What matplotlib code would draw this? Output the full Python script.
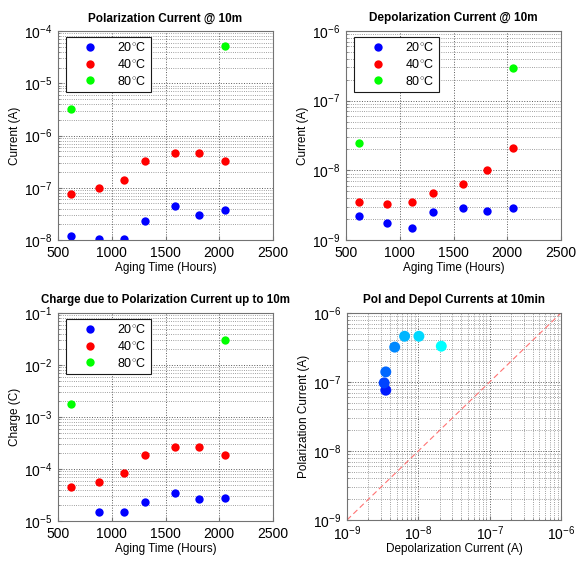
import numpy as np
import matplotlib
matplotlib.use('Agg')
import matplotlib.pyplot as plt
from matplotlib.colors import LinearSegmentedColormap
from matplotlib.ticker import LogLocator, NullFormatter

plt.rcParams['font.family'] = ['Liberation Sans', 'DejaVu Sans']
plt.rcParams['mathtext.fontset'] = 'custom'
plt.rcParams['mathtext.rm'] = 'Liberation Sans'

# Aging times (hours)
hours = [620, 880, 1110, 1310, 1590, 1810, 2050]
hours_80 = [620, 2050]
hours_q20 = [880, 1110, 1310, 1590, 1810, 2050]

# Polarization current @ 10 min (A)
pol_20 = [1.17e-8, 1.03e-8, 1.03e-8, 2.34e-8, 4.4e-8, 3.0e-8, 3.7e-8]
pol_40 = [7.6e-8, 9.7e-8, 1.4e-7, 3.2e-7, 4.6e-7, 4.6e-7, 3.3e-7]
pol_80 = [3.2e-6, 5.2e-5]

# Depolarization current @ 10 min (A)
dep_20 = [2.2e-9, 1.73e-9, 1.47e-9, 2.52e-9, 2.9e-9, 2.63e-9, 2.9e-9]
dep_40 = [3.5e-9, 3.32e-9, 3.5e-9, 4.67e-9, 6.42e-9, 1.02e-8, 2.1e-8]
dep_80 = [2.43e-8, 2.95e-7]

# Charge up to 10 min (C)
q_20 = [1.5e-5, 1.5e-5, 2.3e-5, 3.5e-5, 2.6e-5, 2.75e-5]
q_40 = [4.5e-5, 5.7e-5, 8.2e-5, 1.82e-4, 2.6e-4, 2.6e-4, 1.88e-4]
q_80 = [1.75e-3, 2.97e-2]

labels = ['20$^{\\circ}$C', '40$^{\\circ}$C', '80$^{\\circ}$C']

fig = plt.figure(figsize=(5.76, 5.61), dpi=100)


def style(ax, logx=False):
    for s in ax.spines.values():
        s.set_color('0.45')
        s.set_linewidth(0.8)
    ax.tick_params(which='both', direction='in', color='0.45', labelsize=10, pad=4)
    ax.tick_params(which='major', length=3)
    ax.tick_params(which='minor', length=1.5)
    ax.grid(True, which='major', linestyle=':', color='0.35', linewidth=0.7)
    ax.grid(True, which='minor', linestyle=':', color='0.5', linewidth=0.6)
    ax.yaxis.set_minor_locator(LogLocator(base=10, subs=np.arange(2, 10), numticks=20))
    ax.yaxis.set_minor_formatter(NullFormatter())
    if logx:
        ax.xaxis.set_minor_locator(LogLocator(base=10, subs=np.arange(2, 10), numticks=20))
        ax.xaxis.set_minor_formatter(NullFormatter())
    ax.set_axisbelow(True)


def time_panel(rect, y20, y40, y80, x20, ylim, title, ylabel, tsize=8.5):
    ax = fig.add_axes(rect)
    ax.plot(x20, y20, 'o', color='b', ms=6, mec='none', label=labels[0])
    ax.plot(hours, y40, 'o', color='r', ms=6, mec='none', label=labels[1])
    ax.plot(hours_80, y80, 'o', color='#00ff00', ms=6, mec='none', label=labels[2])
    ax.set_yscale('log')
    ax.set_xlim(500, 2500)
    ax.set_ylim(*ylim)
    ax.set_xticks([500, 1000, 1500, 2000, 2500])
    style(ax)
    ax.set_title(title, fontsize=tsize, fontweight='bold', pad=7)
    ax.set_xlabel('Aging Time (Hours)', fontsize=8.5, labelpad=2)
    ax.set_ylabel(ylabel, fontsize=8.5, labelpad=2)
    leg = ax.legend(loc='upper left', bbox_to_anchor=(0.035, 0.972), fontsize=9,
                    fancybox=False, framealpha=1, edgecolor='0.1', borderpad=0.35,
                    handlelength=3.2, handletextpad=0.6, labelspacing=0.3,
                    borderaxespad=0, numpoints=1)
    leg.get_frame().set_linewidth(0.8)
    return ax


time_panel([0.1007, 0.5722, 0.3733, 0.3725], pol_20, pol_40, pol_80, hours,
           (1e-8, 1e-4), 'Polarization Current @ 10m', 'Current (A)')
time_panel([0.6007, 0.5722, 0.3733, 0.3725], dep_20, dep_40, dep_80, hours,
           (1e-9, 1e-6), 'Depolarization Current @ 10m', 'Current (A)')
time_panel([0.1007, 0.0713, 0.3733, 0.3708], q_20, q_40, q_80, hours_q20,
           (1e-5, 1e-1), 'Charge due to Polarization Current up to 10m', 'Charge (C)',
           tsize=8.3)

# Pol vs depol (40 C), colored by aging time
ax = fig.add_axes([0.6024, 0.0731, 0.3715, 0.369])
cmap = LinearSegmentedColormap.from_list('bc', [(0, 0.1, 1), (0, 1, 1)])
ax.plot([1e-9, 1e-6], [1e-9, 1e-6], '--', color=(1, 0.45, 0.45), lw=0.8, dashes=(5, 3))
ax.scatter(dep_40, pol_40, c=hours, cmap=cmap, s=62, edgecolors='none', zorder=3)
ax.set_xscale('log')
ax.set_yscale('log')
ax.set_xlim(1e-9, 1e-6)
ax.set_ylim(1e-9, 1e-6)
style(ax, logx=True)
ax.tick_params(axis='x', which='both', pad=3)
ax.set_title('Pol and Depol Currents at 10min', fontsize=8.5, fontweight='bold', pad=7)
ax.set_xlabel('Depolarization Current (A)', fontsize=8.5, labelpad=0.5)
ax.set_ylabel('Polarization Current (A)', fontsize=8.5, labelpad=2)

fig.savefig('out.png', dpi=100)
